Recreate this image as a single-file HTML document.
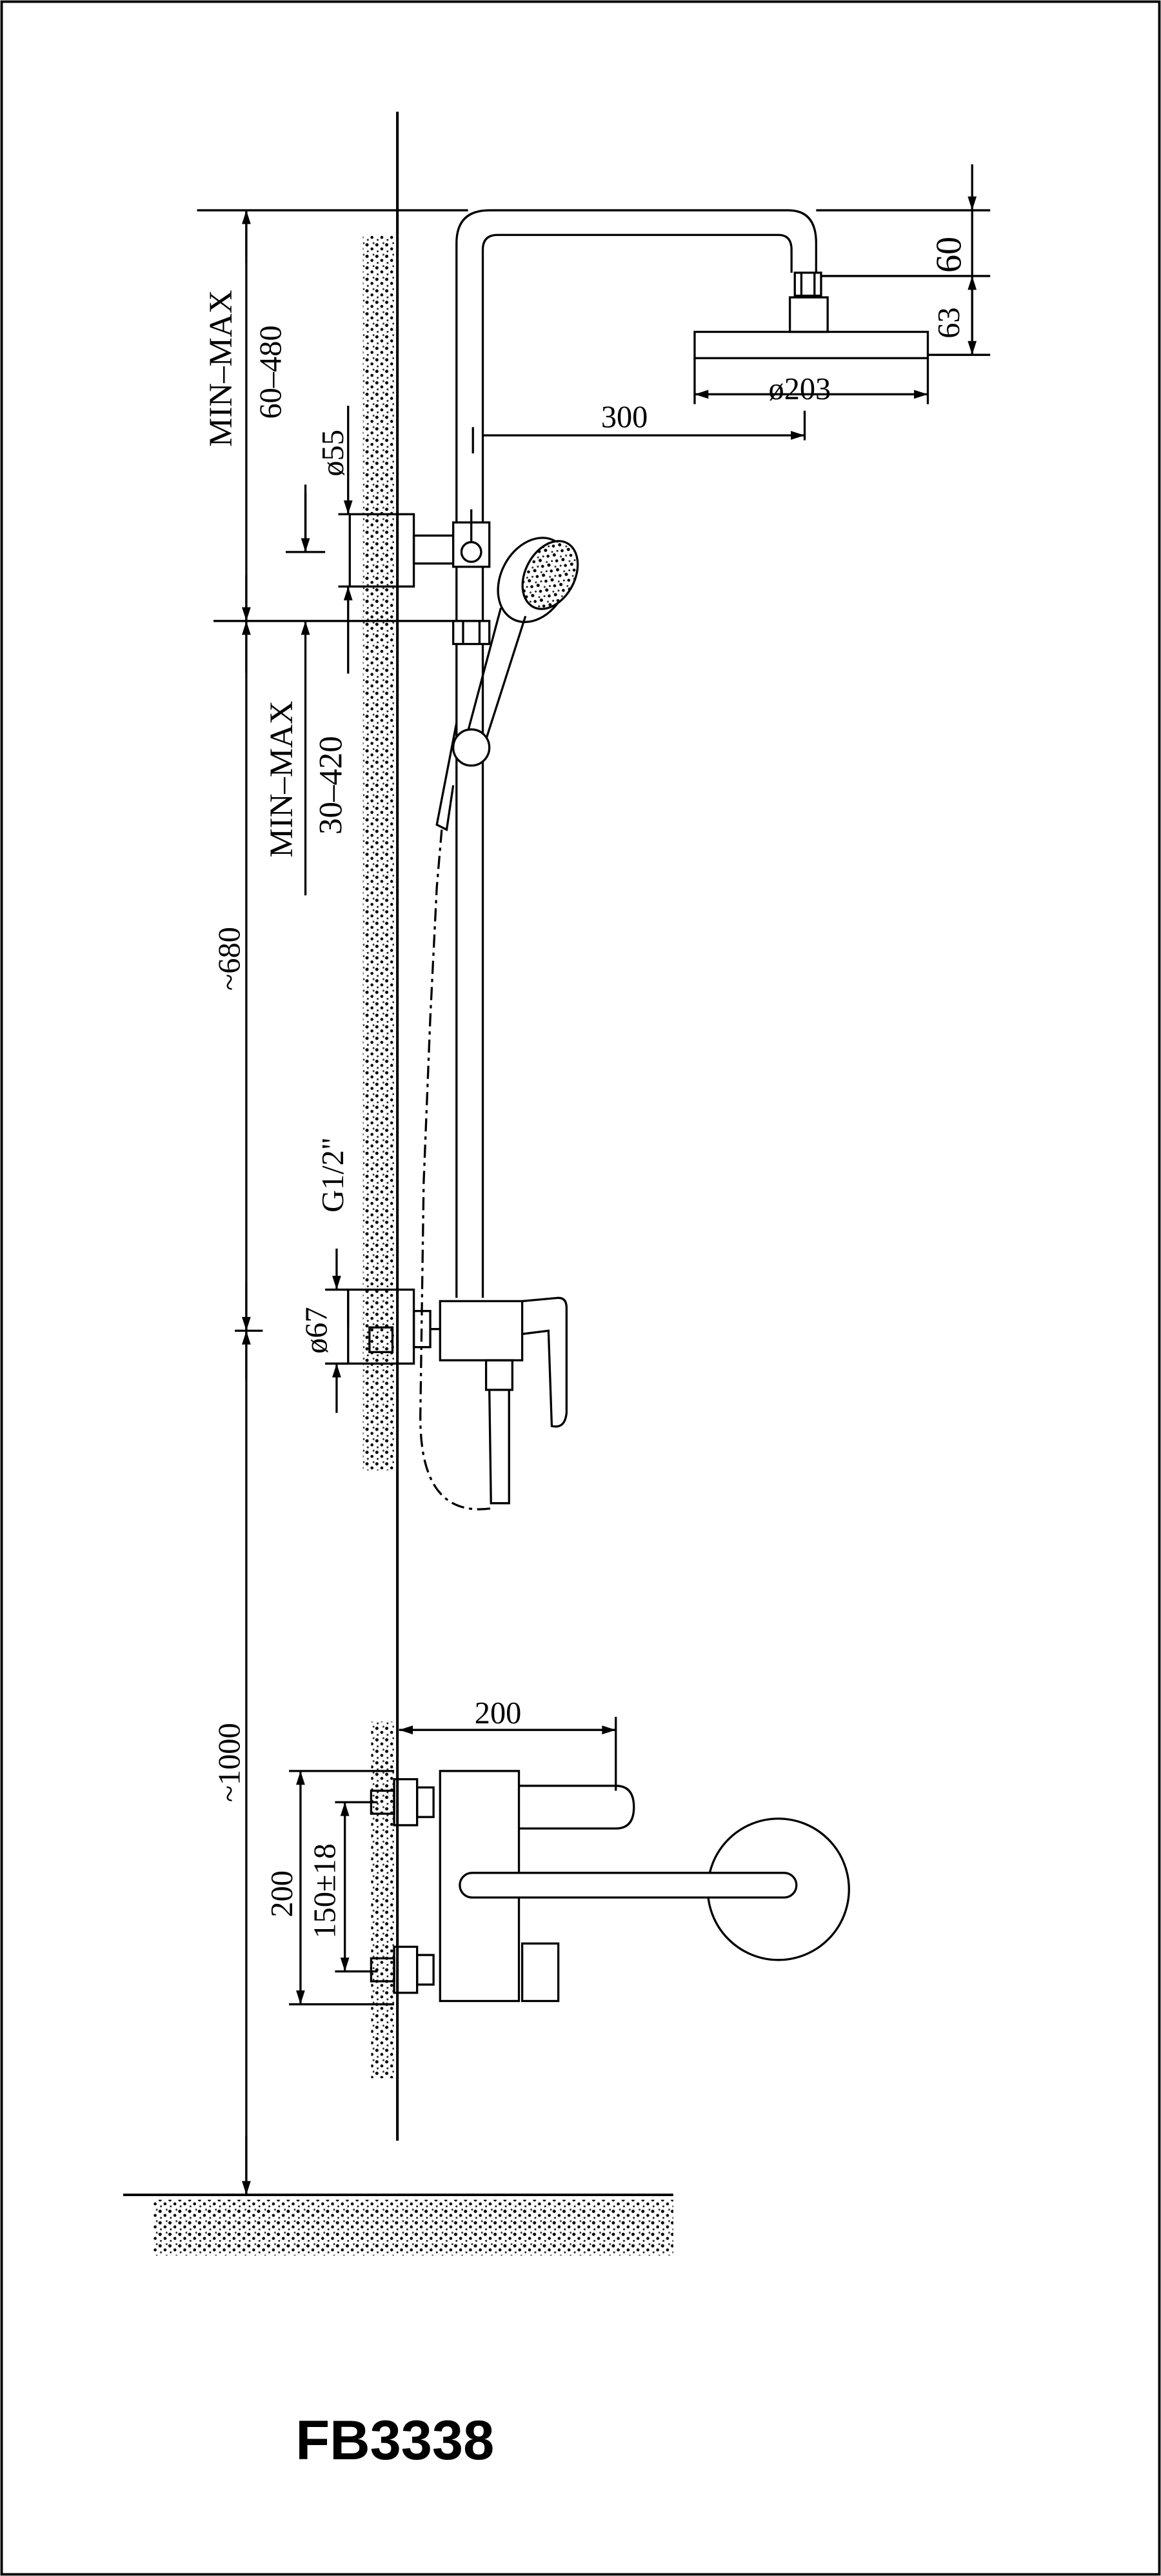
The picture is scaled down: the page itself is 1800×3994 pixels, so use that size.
<!DOCTYPE html>
<html><head><meta charset="utf-8"><style>
html,body{margin:0;padding:0;background:#fff;}
svg{display:block;}
</style></head><body>
<svg width="1800" height="3994" viewBox="0 0 707 1568" preserveAspectRatio="none" xmlns="http://www.w3.org/2000/svg" font-family="Liberation Serif, serif">
<defs>
<pattern id="st" width="6" height="7" patternUnits="userSpaceOnUse">
<rect width="6" height="7" fill="#fff"/>
<circle cx="1.5" cy="2" r="1" fill="#000"/><circle cx="4.5" cy="4.5" r="0.9" fill="#000"/><circle cx="2" cy="6" r="0.6" fill="#222"/><circle cx="5.5" cy="1" r="0.6" fill="#333"/>
</pattern>
<marker id="a" viewBox="0 0 14 10" refX="14" refY="5" markerWidth="10" markerHeight="6" markerUnits="userSpaceOnUse" orient="auto-start-reverse"><path d="M0,0.5 L14,5 L0,9.5 z" fill="#000"/></marker>
</defs>
<g fill="none" stroke="#000" stroke-width="1.3">
<rect x="1" y="1" width="705" height="1566" stroke-width="1.5"/>
<rect x="221" y="143" width="19" height="752" fill="url(#st)" stroke="none"/>
<rect x="226" y="1048" width="14" height="217" fill="url(#st)" stroke="none"/>
<line x1="242" y1="68" x2="242" y2="1303" stroke-width="1.6"/>
<rect x="93" y="1339" width="317" height="34" fill="url(#st)" stroke="none"/>
<line x1="75" y1="1336" x2="410" y2="1336" stroke-width="1.5"/>
<path d="M278,790 L278,148 Q278,128 298,128 L480,128 Q497,128 497,148 L497,166"/>
<path d="M294,790 L294,152 Q294,143 303,143 L474,143 Q482,143 482,152 L482,166"/>
<rect x="484" y="166" width="16" height="14"/>
<line x1="488" y1="166" x2="488" y2="180"/><line x1="496" y1="166" x2="496" y2="180"/>
<rect x="481" y="181" width="23" height="21"/>
<rect x="423" y="202" width="142" height="16"/>
<line x1="497" y1="128" x2="603" y2="128"/>
<line x1="500" y1="168" x2="603" y2="168"/>
<line x1="565" y1="216" x2="603" y2="216"/>
<line x1="592" y1="100" x2="592" y2="128" marker-end="url(#a)"/>
<line x1="592" y1="128" x2="592" y2="216"/>
<line x1="592" y1="200" x2="592" y2="168" marker-end="url(#a)"/>
<line x1="592" y1="200" x2="592" y2="216" marker-end="url(#a)"/>
<line x1="423" y1="218" x2="423" y2="246"/><line x1="565" y1="218" x2="565" y2="246"/>
<line x1="423" y1="240" x2="565" y2="240" marker-start="url(#a)" marker-end="url(#a)"/>
<line x1="490" y1="250" x2="490" y2="268"/>
<line x1="288" y1="260" x2="288" y2="276"/>
<line x1="294" y1="265" x2="490" y2="265" marker-end="url(#a)"/>
<line x1="120" y1="128" x2="285" y2="128"/>
<line x1="130" y1="378" x2="295" y2="378"/>
<rect x="213" y="313" width="39" height="44"/>
<line x1="206" y1="313" x2="213" y2="313"/><line x1="206" y1="357" x2="213" y2="357"/>
<rect x="252" y="326" width="24" height="17"/>
<rect x="276" y="318" width="22" height="27" fill="#fff"/>
<line x1="287" y1="310" x2="287" y2="330"/>
<circle cx="287" cy="336" r="6" fill="#fff"/>
<rect x="276" y="378" width="22" height="14" fill="#fff"/>
<line x1="282" y1="378" x2="282" y2="392"/><line x1="292" y1="378" x2="292" y2="392"/>
<ellipse cx="325" cy="353" rx="20" ry="27" transform="rotate(28 325 353)" fill="#fff"/>
<ellipse cx="335" cy="350" rx="15" ry="22" transform="rotate(28 335 350)" fill="url(#st)"/>
<line x1="305" y1="370" x2="285" y2="445"/>
<line x1="320" y1="375" x2="296" y2="450"/>
<circle cx="287" cy="455" r="11" fill="#fff"/>
<path d="M278,440 L266,502 L272,505 L276,478"/>
<path d="M269,505 L266,540 L262,620 L258,720 L256,860 Q255,925 300,918" stroke-dasharray="8,3,2,3"/>
<line x1="150" y1="128" x2="150" y2="1336"/>
<line x1="150" y1="160" x2="150" y2="128" marker-end="url(#a)"/>
<line x1="150" y1="350" x2="150" y2="378" marker-end="url(#a)"/>
<line x1="150" y1="410" x2="150" y2="378" marker-end="url(#a)"/>
<line x1="150" y1="780" x2="150" y2="810" marker-end="url(#a)"/>
<line x1="150" y1="840" x2="150" y2="810" marker-end="url(#a)"/>
<line x1="150" y1="1300" x2="150" y2="1336" marker-end="url(#a)"/>
<line x1="143" y1="810" x2="160" y2="810"/>
<line x1="186" y1="295" x2="186" y2="335"/><line x1="174" y1="336" x2="198" y2="336"/>
<line x1="186" y1="300" x2="186" y2="336" marker-end="url(#a)"/>
<line x1="186" y1="545" x2="186" y2="378" marker-end="url(#a)"/>
<line x1="212" y1="247" x2="212" y2="313" marker-end="url(#a)"/>
<line x1="212" y1="410" x2="212" y2="357" marker-end="url(#a)"/>
<rect x="212" y="785" width="40" height="45"/>
<rect x="225" y="808" width="14" height="15"/>
<rect x="252" y="798" width="10" height="22"/>
<line x1="262" y1="809" x2="268" y2="809"/>
<rect x="268" y="792" width="50" height="36"/>
<path d="M318,792 L340,790 Q345,790 345,796 L345,860 Q344,870 336,868 L334,810 L318,812"/>
<rect x="296" y="828" width="16" height="18"/>
<path d="M298,846 L299,915 L310,915 L310,846"/>
<line x1="205" y1="760" x2="205" y2="785" marker-end="url(#a)"/>
<line x1="205" y1="860" x2="205" y2="830" marker-end="url(#a)"/>
<line x1="198" y1="785" x2="212" y2="785"/><line x1="198" y1="830" x2="212" y2="830"/>
<line x1="212" y1="785" x2="212" y2="808"/>
<line x1="243" y1="1053" x2="375" y2="1053" marker-start="url(#a)" marker-end="url(#a)"/>
<line x1="375" y1="1045" x2="375" y2="1090"/>
<line x1="176" y1="1078" x2="240" y2="1078"/>
<line x1="176" y1="1220" x2="240" y2="1220"/>
<line x1="183" y1="1078" x2="183" y2="1220" marker-start="url(#a)" marker-end="url(#a)"/>
<line x1="210" y1="1097" x2="210" y2="1200" marker-start="url(#a)" marker-end="url(#a)"/>
<line x1="204" y1="1097" x2="230" y2="1097"/><line x1="204" y1="1200" x2="230" y2="1200"/>
<rect x="226" y="1090" width="14" height="14"/>
<rect x="240" y="1083" width="14" height="28"/>
<rect x="254" y="1088" width="10" height="18"/>
<rect x="226" y="1192" width="14" height="14"/>
<rect x="240" y="1185" width="14" height="28"/>
<rect x="254" y="1190" width="10" height="18"/>
<rect x="268" y="1078" width="48" height="140"/>
<path d="M316,1087 L375,1087 Q386,1087 386,1100 Q386,1113 375,1113 L316,1113"/>
<circle cx="474" cy="1150" r="43"/>
<rect x="280" y="1140" width="205" height="15" rx="7.5" fill="#fff"/>
<rect x="318" y="1183" width="22" height="35"/>
</g>
<g font-size="19" fill="#000">
<text transform="translate(141,272) rotate(-90)" font-size="20">MIN–MAX</text>
<text transform="translate(171,255) rotate(-90)">60–480</text>
<text transform="translate(178,522) rotate(-90)" font-size="20">MIN–MAX</text>
<text transform="translate(208,508) rotate(-90)" font-size="20">30–420</text>
<text transform="translate(146,603) rotate(-90)">~680</text>
<text transform="translate(146,1097) rotate(-90)">~1000</text>
<text transform="translate(209,290) rotate(-90)">ø55</text>
<text transform="translate(199,824) rotate(-90)">ø67</text>
<text transform="translate(209,738) rotate(-90)">G1/2"</text>
<text transform="translate(585,166) rotate(-90)" font-size="22">60</text>
<text transform="translate(584,206) rotate(-90)">63</text>
<text x="468" y="243">ø203</text>
<text x="366" y="260">300</text>
<text x="289" y="1049">200</text>
<text transform="translate(178,1167) rotate(-90)">200</text>
<text transform="translate(204,1180) rotate(-90)">150±18</text>
</g>
<text x="180" y="1497" style="font-family:'Liberation Sans',sans-serif;font-weight:bold;font-size:34px" fill="#000">FB3338</text>
</svg>
</body></html>
